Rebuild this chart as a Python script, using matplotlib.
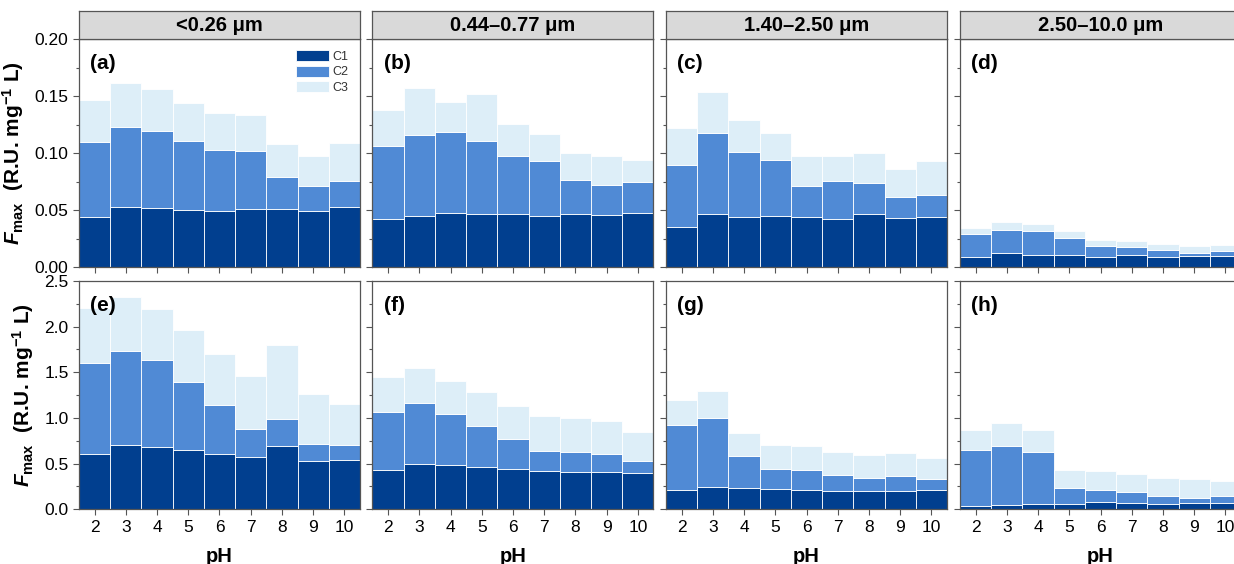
import numpy as np
import matplotlib
matplotlib.use('Agg')
import matplotlib.pyplot as plt
from matplotlib.ticker import MultipleLocator

plt.rcParams['font.family'] = ['Liberation Sans', 'DejaVu Sans']
plt.rcParams['mathtext.fontset'] = 'custom'
plt.rcParams['mathtext.rm'] = 'Liberation Sans:bold'
plt.rcParams['mathtext.bf'] = 'Liberation Sans:bold'
plt.rcParams['mathtext.it'] = 'Liberation Sans:bold:italic'

###############################################################################
# DATA (component Fmax values, stacked C1 + C2 + C3)
###############################################################################
ph = [2, 3, 4, 5, 6, 7, 8, 9, 10]
size_titles = ['<0.26 μm', '0.44–0.77 μm', '1.40–2.50 μm', '2.50–10.0 μm']
panel_tags = ['(a)', '(b)', '(c)', '(d)', '(e)', '(f)', '(g)', '(h)']
components = ['C1', 'C2', 'C3']

# top row
a_c1 = [0.044, 0.053, 0.052, 0.050, 0.049, 0.051, 0.051, 0.049, 0.053]
a_c2 = [0.066, 0.070, 0.068, 0.061, 0.054, 0.051, 0.028, 0.022, 0.023]
a_c3 = [0.037, 0.039, 0.036, 0.033, 0.032, 0.032, 0.029, 0.027, 0.033]

b_c1 = [0.042, 0.045, 0.048, 0.047, 0.047, 0.045, 0.047, 0.046, 0.048]
b_c2 = [0.064, 0.071, 0.071, 0.064, 0.051, 0.048, 0.030, 0.026, 0.027]
b_c3 = [0.032, 0.041, 0.026, 0.041, 0.028, 0.024, 0.023, 0.026, 0.019]

c_c1 = [0.035, 0.047, 0.044, 0.045, 0.044, 0.042, 0.047, 0.043, 0.044]
c_c2 = [0.055, 0.071, 0.057, 0.049, 0.027, 0.034, 0.027, 0.019, 0.019]
c_c3 = [0.032, 0.036, 0.028, 0.024, 0.027, 0.022, 0.026, 0.024, 0.030]

d_c1 = [0.0094, 0.0123, 0.0111, 0.0108, 0.0094, 0.0108, 0.0094, 0.0099, 0.0102]
d_c2 = [0.0195, 0.0207, 0.0205, 0.0146, 0.0090, 0.0070, 0.0058, 0.0024, 0.0041]
d_c3 = [0.0053, 0.0068, 0.0061, 0.0062, 0.0059, 0.0053, 0.0050, 0.0067, 0.0053]

# bottom row
e_c1 = [0.61, 0.70, 0.68, 0.65, 0.61, 0.57, 0.69, 0.53, 0.54]
e_c2 = [0.99, 1.03, 0.95, 0.74, 0.53, 0.31, 0.30, 0.18, 0.16]
e_c3 = [0.60, 0.60, 0.56, 0.57, 0.56, 0.58, 0.81, 0.55, 0.45]

f_c1 = [0.43, 0.50, 0.48, 0.46, 0.44, 0.42, 0.41, 0.41, 0.40]
f_c2 = [0.64, 0.66, 0.56, 0.45, 0.33, 0.22, 0.22, 0.20, 0.13]
f_c3 = [0.38, 0.39, 0.36, 0.37, 0.36, 0.38, 0.37, 0.36, 0.32]

g_c1 = [0.21, 0.245, 0.23, 0.22, 0.21, 0.20, 0.20, 0.20, 0.21]
g_c2 = [0.71, 0.755, 0.35, 0.225, 0.22, 0.176, 0.143, 0.165, 0.126]
g_c3 = [0.28, 0.30, 0.256, 0.259, 0.263, 0.255, 0.252, 0.252, 0.226]

h_c1 = [0.04, 0.05, 0.06, 0.06, 0.077, 0.073, 0.062, 0.066, 0.066]
h_c2 = [0.606, 0.643, 0.571, 0.17, 0.138, 0.117, 0.084, 0.062, 0.076]
h_c3 = [0.223, 0.249, 0.238, 0.201, 0.205, 0.193, 0.193, 0.200, 0.168]

panels = [
    [a_c1, a_c2, a_c3], [b_c1, b_c2, b_c3], [c_c1, c_c2, c_c3], [d_c1, d_c2, d_c3],
    [e_c1, e_c2, e_c3], [f_c1, f_c2, f_c3], [g_c1, g_c2, g_c3], [h_c1, h_c2, h_c3],
]

colors = ['#013f8f', '#508ad5', '#ddeef8']
spine_col = '#555555'

###############################################################################
# FIGURE
###############################################################################
W, H = 1234, 564
fig = plt.figure(figsize=(W / 100, H / 100), dpi=100)

lefts = [79, 372.5, 666, 960]
width = 281
row_tops = [39.3, 281]
row_bottoms = [267.3, 509.3]
strip_top = 11

axes = []
for r in range(2):
    for c in range(4):
        x0 = lefts[c] / W
        y0 = 1 - row_bottoms[r] / H
        h = (row_bottoms[r] - row_tops[r]) / H
        ax = fig.add_axes([x0, y0, width / W, h])
        axes.append(ax)
        vals = panels[r * 4 + c]
        bottom = np.zeros(len(ph))
        for k in range(3):
            ax.bar(ph, vals[k], width=1.0, bottom=bottom, color=colors[k],
                   edgecolor='white', linewidth=0.6, label=components[k])
            bottom = bottom + np.array(vals[k])
        ax.set_xlim(1.5, 10.5)
        ax.set_xticks(ph)
        if r == 0:
            ax.set_ylim(0, 0.2)
            ax.yaxis.set_major_locator(MultipleLocator(0.05))
            ax.yaxis.set_minor_locator(MultipleLocator(0.025))
            ax.set_xticklabels([])
        else:
            ax.set_ylim(0, 2.5)
            ax.yaxis.set_major_locator(MultipleLocator(0.5))
            ax.yaxis.set_minor_locator(MultipleLocator(0.25))
            ax.tick_params(axis='x', labelsize=12.5, pad=4)
            ax.set_xlabel('pH', fontsize=14.5, fontweight='bold', labelpad=8)
        if c == 0:
            ax.tick_params(axis='y', labelsize=12.5)
            if r == 0:
                ax.set_yticks([0, 0.05, 0.1, 0.15, 0.2])
                ax.set_yticklabels(['0.00', '0.05', '0.10', '0.15', '0.20'])
            ax.set_ylabel(r'$\mathit{F}_{\mathbf{max}}$  (R.U. mg$^{\mathbf{-1}}$ L)',
                          fontsize=15, fontweight='bold', labelpad=6)
        else:
            ax.set_yticklabels([])
        ax.tick_params(which='both', direction='out', color=spine_col, width=0.8)
        ax.tick_params(which='major', length=4)
        ax.tick_params(which='minor', length=2.5)
        for s in ax.spines.values():
            s.set_color(spine_col)
            s.set_linewidth(0.9)
        ax.text(0.04, 0.935, panel_tags[r * 4 + c], transform=ax.transAxes,
                fontsize=15, fontweight='bold', va='top', ha='left')

        # strip header on top row
        if r == 0:
            sx = fig.add_axes([x0, 1 - row_tops[0] / H, width / W,
                               (row_tops[0] - strip_top) / H])
            sx.set_facecolor('#d9d9d9')
            sx.set_xticks([])
            sx.set_yticks([])
            for s in sx.spines.values():
                s.set_color(spine_col)
                s.set_linewidth(0.9)
            sx.text(0.5, 0.5, size_titles[c], transform=sx.transAxes,
                    ha='center', va='center', fontsize=14.5, fontweight='bold')

axes[0].legend(loc='upper right', bbox_to_anchor=(0.985, 0.985), frameon=False,
               fontsize=9, handlelength=2.6, handleheight=1.0, labelspacing=0.2,
               handletextpad=0.3, borderaxespad=0.2, labelcolor='#333333')

fig.savefig('out.png', dpi=100)
